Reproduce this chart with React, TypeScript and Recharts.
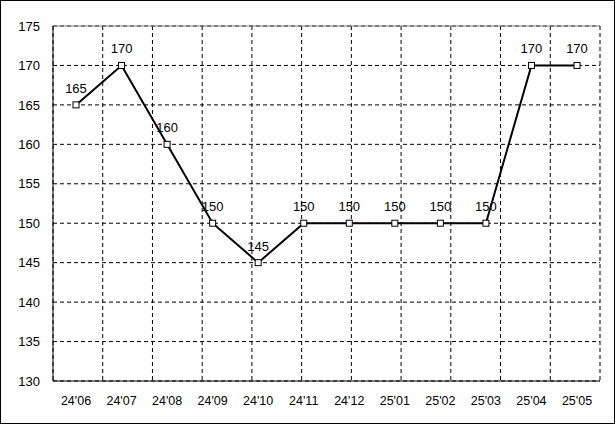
import React from "react";
import {
  LineChart,
  Line,
  XAxis,
  YAxis,
  CartesianGrid,
  ReferenceLine,
  LabelList,
} from "recharts";

const months = ["24'06", "24'07", "24'08", "24'09", "24'10", "24'11", "24'12", "25'01", "25'02", "25'03", "25'04", "25'05"];
const values = [165, 170, 160, 150, 145, 150, 150, 150, 150, 150, 170, 170];
const yTicks = [130, 135, 140, 145, 150, 155, 160, 165, 170, 175];
const gridBoundaries = [1, 2, 3, 4, 5, 6, 7, 8, 9, 10, 11];

const data = months.map((m, i) => ({ month: m, value: values[i] }));

const FONT = "'Liberation Sans', Arial, sans-serif";

const SquareDot = (props: any) => {
  const { cx, cy } = props;
  if (cx == null || cy == null) return null;
  return (
    <rect
      x={cx - 3}
      y={cy - 3}
      width={6}
      height={6}
      fill="#ffffff"
      stroke="#000000"
      strokeWidth={1}
    />
  );
};

export default function App() {
  return (
    <div style={{ position: "absolute", left: 0, top: 0, width: 615, height: 424, background: "#fff" }}>
      <LineChart
        width={615}
        height={424}
        data={data}
        margin={{ top: 26, right: 15, left: 0, bottom: 13 }}
      >
        <XAxis
          xAxisId="grid"
          type="number"
          domain={[0, 12]}
          ticks={gridBoundaries}
          allowDataOverflow
          hide
        />
        <CartesianGrid
          xAxisId="grid"
          stroke="#000"
          strokeDasharray="4 3"
          horizontalValues={yTicks}
        />
        <XAxis
          dataKey="month"
          padding={{ left: 23, right: 23 }}
          axisLine={{ stroke: "#000" }}
          tickLine={false}
          tickSize={0}
          tickMargin={15}
          height={30}
          interval={0}
          tick={{ fill: "#000", fontSize: 12.5, fontFamily: FONT }}
        />
        <YAxis
          domain={[130, 175]}
          ticks={yTicks}
          width={53}
          axisLine={{ stroke: "#000" }}
          tickLine={false}
          tickSize={0}
          tickMargin={13}
          interval={0}
          tick={{ fill: "#000", fontSize: 13, fontFamily: FONT }}
        />
        <ReferenceLine y={175} stroke="#808080" />
        <ReferenceLine xAxisId="grid" x={12} stroke="#808080" />
        <Line
          dataKey="value"
          stroke="#000"
          strokeWidth={2}
          dot={<SquareDot />}
          isAnimationActive={false}
        >
          <LabelList
            dataKey="value"
            position="top"
            offset={12}
            fill="#000"
            fontSize={13}
            fontFamily={FONT}
          />
        </Line>
      </LineChart>
      <div
        style={{
          position: "absolute",
          left: 0,
          top: 0,
          width: 615,
          height: 424,
          boxSizing: "border-box",
          border: "1px solid #000",
          pointerEvents: "none",
        }}
      />
    </div>
  );
}
